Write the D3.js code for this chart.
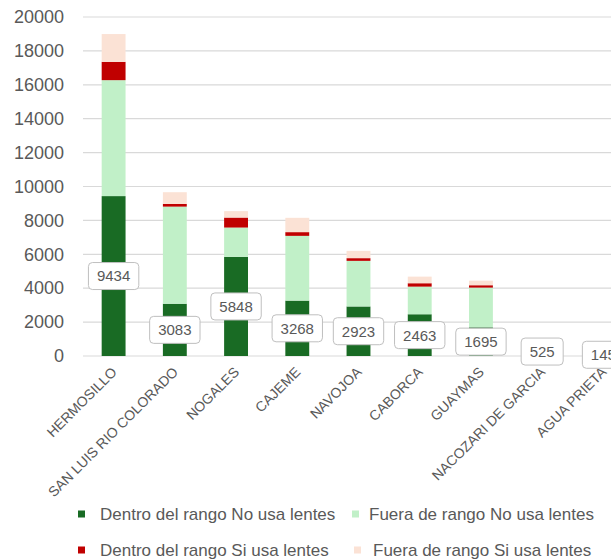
<!DOCTYPE html>
<html>
<head>
<meta charset="utf-8">
<script src="https://cdn.jsdelivr.net/npm/d3@7"></script>
<style>
  body { margin: 0; background: #fff; }
  svg { display: block; font-family: "Liberation Sans", Arial, sans-serif; }
</style>
</head>
<body>
<svg id="chart" width="611" height="559"></svg>
<script>
// Municipalities on the x axis
const categories = ["HERMOSILLO", "SAN LUIS RIO COLORADO", "NOGALES", "CAJEME", "NAVOJOA",
  "CABORCA", "GUAYMAS", "NACOZARI DE GARCIA", "AGUA PRIETA"];

// Series values (stacked from bottom to top)
const dentroNo = [9434, 3083, 5848, 3268, 2923, 2463, 1695, 525, 145];
const fueraNo = [6840, 5730, 1730, 3820, 2690, 1630, 2340, 0, 0];
const dentroSi = [1080, 160, 590, 220, 160, 200, 140, 0, 0];
const fueraSi = [1640, 690, 380, 845, 430, 390, 270, 0, 0];

const seriesNames = ["Dentro del rango No usa lentes", "Fuera de rango No usa lentes",
  "Dentro del rango Si usa lentes", "Fuera de rango Si usa lentes"];
const seriesColors = ["#196b24", "#c1f0c8", "#c00000", "#fbe2d5"];

const yTicks = [0, 2000, 4000, 6000, 8000, 10000, 12000, 14000, 16000, 18000, 20000];

// Build table for d3.stack
const keys = ["dentroNo", "fueraNo", "dentroSi", "fueraSi"];
const table = categories.map((c, i) => ({
  cat: c, dentroNo: dentroNo[i], fueraNo: fueraNo[i], dentroSi: dentroSi[i], fueraSi: fueraSi[i]
}));
const stacked = d3.stack().keys(keys)(table);

const svg = d3.select("#chart");
const textColor = "#595959";

const x = d3.scaleBand().domain(categories).range([83, 634])
  .paddingInner(0.61).paddingOuter(0.305);
const y = d3.scaleLinear().domain([0, 20000]).range([356, 17]);

// gridlines
svg.append("g")
  .selectAll("line")
  .data(yTicks)
  .join("line")
  .attr("x1", 83).attr("x2", 611)
  .attr("y1", d => y(d)).attr("y2", d => y(d))
  .attr("stroke", "#d9d9d9").attr("stroke-width", 1.2);

// y axis labels
svg.append("g")
  .attr("transform", "translate(64,0)")
  .call(d3.axisLeft(y).tickValues(yTicks).tickSize(0).tickPadding(0).tickFormat(d3.format("d")))
  .call(g => g.select(".domain").remove())
  .call(g => g.selectAll("text")
    .attr("fill", textColor)
    .style("font-size", "18px")
    .style("font-family", "'Liberation Sans', Arial, sans-serif"));

// stacked bars
svg.append("g")
  .selectAll("g")
  .data(stacked)
  .join("g")
  .attr("fill", (d, i) => seriesColors[i])
  .selectAll("rect")
  .data(d => d)
  .join("rect")
  .attr("x", d => x(d.data.cat))
  .attr("width", x.bandwidth())
  .attr("y", d => y(d[1]))
  .attr("height", d => y(d[0]) - y(d[1]));

// x labels, rotated
svg.append("g")
  .selectAll("text")
  .data(categories)
  .join("text")
  .attr("transform", d => `translate(${x(d) + x.bandwidth() / 2 + 4},${373}) rotate(-45)`)
  .attr("text-anchor", "end")
  .attr("fill", textColor)
  .style("font-size", "14px")
  .text(d => d);

// data labels for the first series
const labels = svg.append("g")
  .selectAll("g")
  .data(table)
  .join("g")
  .attr("transform", d => `translate(${x(d.cat) + x.bandwidth() / 2},${y(d.dentroNo / 2)})`);

labels.each(function(d) {
  const g = d3.select(this);
  const t = g.append("text")
    .attr("text-anchor", "middle")
    .attr("dy", "0.36em")
    .attr("fill", textColor)
    .style("font-size", "15px")
    .text(d.dentroNo);
  const w = t.node().getComputedTextLength() + 17;
  g.insert("rect", "text")
    .attr("x", -w / 2).attr("y", -13.5)
    .attr("width", w).attr("height", 27)
    .attr("rx", 4)
    .attr("fill", "#fff")
    .attr("stroke", "#bfbfbf");
});

// legend
const legendPos = [
  { mx: 78, tx: 100, y: 514 },
  { mx: 352, tx: 369, y: 514 },
  { mx: 78, tx: 100, y: 550 },
  { mx: 354, tx: 373, y: 550 }
];
const legend = svg.append("g")
  .selectAll("g")
  .data(seriesNames)
  .join("g");
legend.append("rect")
  .attr("x", (d, i) => legendPos[i].mx)
  .attr("y", (d, i) => legendPos[i].y - 3.5)
  .attr("width", 7).attr("height", 7)
  .attr("fill", (d, i) => seriesColors[i]);
legend.append("text")
  .attr("x", (d, i) => legendPos[i].tx)
  .attr("y", (d, i) => legendPos[i].y)
  .attr("dy", "0.35em")
  .attr("fill", textColor)
  .style("font-size", "17px")
  .text(d => d);
</script>
</body>
</html>
